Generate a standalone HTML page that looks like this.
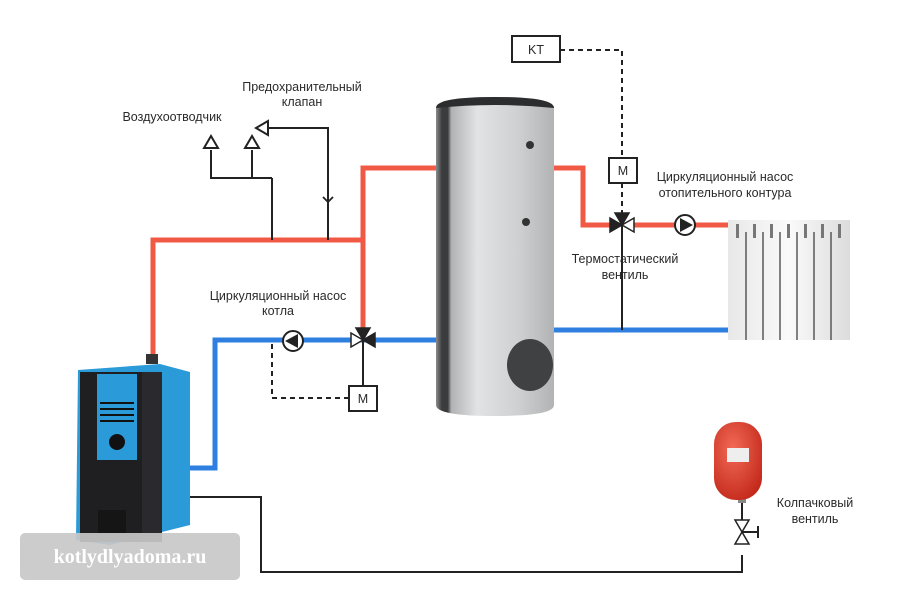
<!DOCTYPE html>
<html><head><meta charset="utf-8"><style>
html,body{margin:0;padding:0;background:#fff;}
svg{display:block;}
text{font-family:"Liberation Sans","DejaVu Sans",sans-serif;font-size:12.5px;fill:#2a2a2a;}
</style></head><body>
<svg width="900" height="600" viewBox="0 0 900 600" xmlns="http://www.w3.org/2000/svg">
<defs>
<linearGradient id="tank" x1="0" x2="1">
<stop offset="0" stop-color="#8a8c8e"/><stop offset="0.05" stop-color="#3a3c3e"/><stop offset="0.1" stop-color="#3a3c3e"/><stop offset="0.13" stop-color="#b0b2b4"/><stop offset="0.35" stop-color="#e2e3e4"/><stop offset="0.7" stop-color="#cfd0d1"/><stop offset="1" stop-color="#b2b3b4"/>
</linearGradient>
<linearGradient id="rad" x1="0" x2="1"><stop offset="0" stop-color="#e8e8e8"/><stop offset="0.5" stop-color="#fafafa"/><stop offset="1" stop-color="#dcdcdc"/></linearGradient>
<radialGradient id="exp" cx="0.4" cy="0.35" r="0.7"><stop offset="0" stop-color="#f26a55"/><stop offset="1" stop-color="#c42a1c"/></radialGradient>
</defs>
<g fill="none" stroke="#f05a45" stroke-width="5">
<polyline points="153,360 153,240 363,240"/>
<polyline points="363,330 363,168 436,168"/>
<polyline points="553,168 583,168 583,225 612,225"/>
<line x1="632" y1="225" x2="730" y2="225"/>
</g>
<g fill="none" stroke="#2f7fe0" stroke-width="5">
<polyline points="188,468 215,468 215,340 436,340"/>
<line x1="553" y1="330" x2="730" y2="330"/>
</g>
<g fill="none" stroke="#222" stroke-width="2">
<polyline points="188,497 261,497 261,572 742,572 742,555"/>
<line x1="742" y1="530" x2="742" y2="495"/>
<line x1="622" y1="225" x2="622" y2="330"/>
<line x1="363" y1="340" x2="363" y2="386"/>
<polyline points="211,150 211,178 272,178"/>
<polyline points="252,150 252,178"/>
<line x1="272" y1="178" x2="272" y2="240"/>
<polyline points="268,128 328,128 328,240"/>
<polyline points="323,197 328,202 333,197" stroke-width="1.8"/>
<rect x="512" y="36" width="48" height="26" fill="#fff"/>
<rect x="609" y="158" width="28" height="25" fill="#fff"/>
<rect x="349" y="386" width="28" height="25" fill="#fff"/>
</g>
<g fill="none" stroke="#222" stroke-width="2" stroke-dasharray="5,4">
<polyline points="560,50 622,50 622,158"/>
<line x1="622" y1="183" x2="622" y2="215"/>
<polyline points="349,398 272,398 272,341"/>
</g>
<text x="536" y="54" text-anchor="middle">KT</text>
<text x="623" y="175" text-anchor="middle" fill="#555">M</text>
<text x="363" y="403" text-anchor="middle" fill="#555">M</text>
<g fill="#fff" stroke="#222" stroke-width="2">
<polygon points="211,136 204,148 218,148"/>
<polygon points="252,136 245,148 259,148"/>
<polygon points="256,128 268,121 268,135"/>
</g>
<g stroke="#222" stroke-width="1.5">
<polygon points="610,218 610,232 622,225" fill="#222"/>
<polygon points="634,218 634,232 622,225" fill="#fff"/>
<polygon points="615,213 629,213 622,225" fill="#222"/>
<polygon points="351,333 351,347 363,340" fill="#fff"/>
<polygon points="375,333 375,347 363,340" fill="#222"/>
<polygon points="356,328 370,328 363,340" fill="#222"/>
<polygon points="735,520 749,520 742,532" fill="#fff"/>
<polygon points="735,544 749,544 742,532" fill="#fff"/>
</g>
<polyline points="742,532 758,532 758,526 758,538" fill="none" stroke="#222" stroke-width="2"/>
<circle cx="685" cy="225" r="10" fill="#fff" stroke="#222" stroke-width="2"/>
<polygon points="680,218 680,232 693,225" fill="#222"/>
<circle cx="293" cy="341" r="10" fill="#fff" stroke="#222" stroke-width="2"/>
<polygon points="298,334 298,348 285,341" fill="#222"/>
<path d="M436,108 Q436,97 495,97 Q554,97 554,108 L554,405 Q554,416 495,416 Q436,416 436,405 Z" fill="url(#tank)"/>
<path d="M436,108 Q436,97 495,97 Q554,97 554,108 Q495,102 436,108 Z" fill="#2b2d2f"/>
<circle cx="530" cy="145" r="4" fill="#333"/>
<circle cx="526" cy="222" r="4" fill="#333"/>
<ellipse cx="530" cy="365" rx="23" ry="26" fill="#3f4143"/>
<rect x="728" y="220" width="122" height="120" fill="url(#rad)"/>
<g stroke="#333" stroke-width="1.2">
<line x1="746" y1="232" x2="746" y2="340"/><line x1="763" y1="232" x2="763" y2="340"/><line x1="780" y1="232" x2="780" y2="340"/><line x1="797" y1="232" x2="797" y2="340"/><line x1="814" y1="232" x2="814" y2="340"/><line x1="831" y1="232" x2="831" y2="340"/>
</g>
<g fill="#777"><rect x="736" y="224" width="3" height="14"/><rect x="753" y="224" width="3" height="14"/><rect x="770" y="224" width="3" height="14"/><rect x="787" y="224" width="3" height="14"/><rect x="804" y="224" width="3" height="14"/><rect x="821" y="224" width="3" height="14"/><rect x="838" y="224" width="3" height="14"/></g>
<rect x="738" y="495" width="8" height="8" fill="#888"/>
<rect x="714" y="422" width="48" height="78" rx="22" fill="url(#exp)"/>
<rect x="727" y="448" width="22" height="14" fill="#eee"/>
<polygon points="78,370 160,364 190,372 190,525 110,545 76,540" fill="#2a9ad8"/>
<rect x="80" y="372" width="62" height="170" fill="#1f1f22"/>
<rect x="97" y="374" width="40" height="86" fill="#2a9ad8"/>
<g fill="#111"><rect x="100" y="402" width="34" height="2"/><rect x="100" y="408" width="34" height="2"/><rect x="100" y="414" width="34" height="2"/><rect x="100" y="420" width="34" height="2"/></g>
<circle cx="117" cy="442" r="8" fill="#111"/>
<rect x="98" y="510" width="28" height="24" fill="#151515"/>
<rect x="142" y="372" width="20" height="170" fill="#2a2a2e"/>
<rect x="146" y="354" width="12" height="10" fill="#333"/>
<rect x="20" y="533" width="220" height="47" rx="5" fill="#c8c8c8" opacity="0.92"/>
<text x="130" y="563" text-anchor="middle" style="font-family:'Liberation Serif',serif;font-weight:bold;font-size:20px;fill:#fff">kotlydlyadoma.ru</text>
<text x="302" y="91" text-anchor="middle">Предохранительный</text>
<text x="302" y="106" text-anchor="middle">клапан</text>
<text x="172" y="121" text-anchor="middle">Воздухоотводчик</text>
<text x="278" y="300" text-anchor="middle">Циркуляционный насос</text>
<text x="278" y="315" text-anchor="middle">котла</text>
<text x="725" y="181" text-anchor="middle">Циркуляционный насос</text>
<text x="725" y="197" text-anchor="middle">отопительного контура</text>
<text x="625" y="263" text-anchor="middle">Термостатический</text>
<text x="625" y="279" text-anchor="middle">вентиль</text>
<text x="815" y="507" text-anchor="middle">Колпачковый</text>
<text x="815" y="523" text-anchor="middle">вентиль</text>
</svg>
</body></html>
